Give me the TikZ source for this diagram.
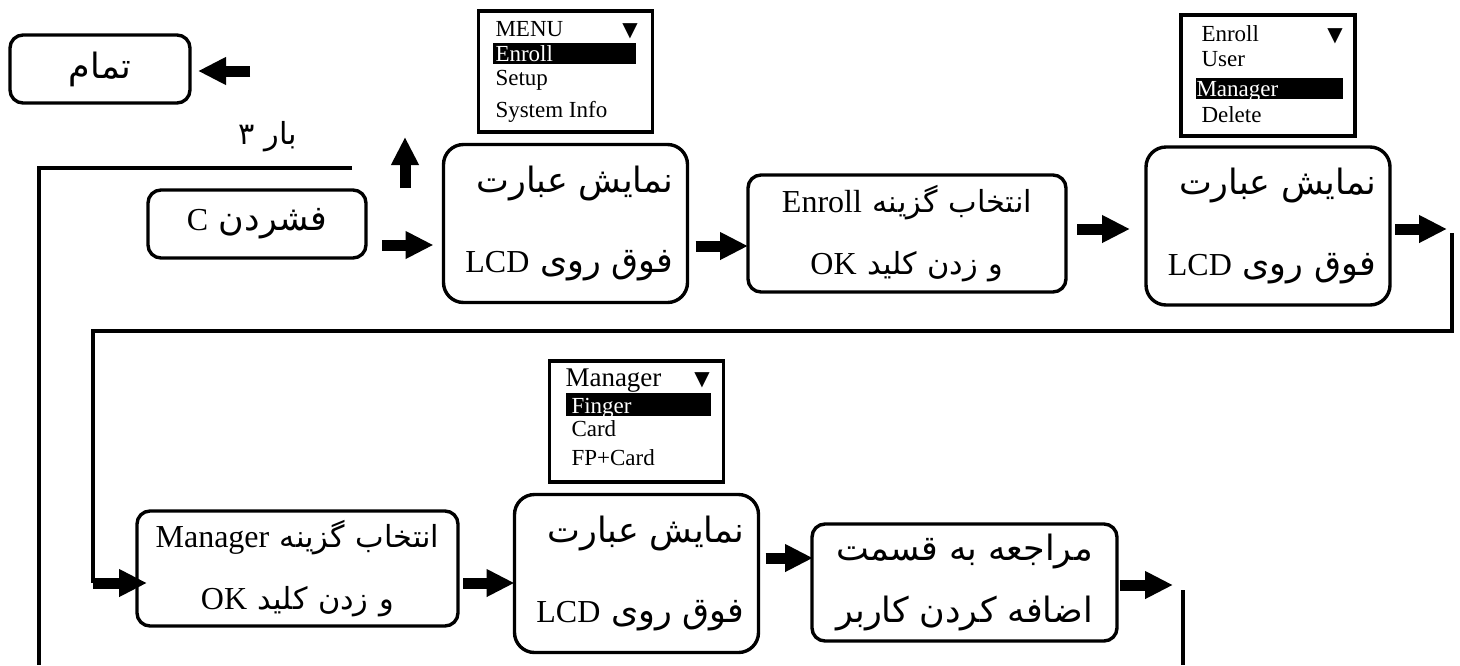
\documentclass[tikz,border=0pt]{standalone}
\usepackage{fontspec}
\setmainfont{Liberation Serif}
\newfontfamily\fafont[Script=Arabic,Scale=1.09]{DejaVu Sans}
\newfontfamily\fasfont[Script=Arabic,Scale=0.95]{DejaVu Sans}
\newfontfamily\symfont{DejaVu Sans}
\TeXXeTstate=1
\usetikzlibrary{arrows.meta,calc,positioning}

\newcommand{\fa}[1]{{\fafont\beginR #1\endR}}
\newcommand{\fas}[1]{{\fasfont\beginR #1\endR}}
\newcommand{\en}[1]{{\rmfamily\beginL #1\endL}}

\tikzstyle{st} = [draw, line width=1.7pt, rounded corners=6.5pt, outer sep=0pt,
  inner xsep=7pt, inner ysep=0pt, align=center, font=\fontsize{16}{31}\selectfont]
\tikzstyle{lcd} = [st, rounded corners=10pt, align=right, text width=108pt,
  minimum height=79pt, font=\fontsize{16}{40}\selectfont]
\tikzstyle{scr} = [draw, line width=1.9pt, inner sep=0pt, minimum width=87pt, minimum height=60.5pt]
\tikzstyle{mt} = [inner sep=0pt, anchor=base west, font=\fontsize{11.5}{12}\selectfont]
\tikzstyle{hl} = [mt, anchor=north west, fill=black, text=white, align=left,
  inner ysep=0pt, text height=9pt, text depth=1.5pt]
\tikzstyle{tri} = [inner sep=0pt, anchor=base east, font=\symfont\fontsize{10}{10}\selectfont]
\tikzstyle{ln} = [line width=1.6pt]
\tikzstyle{arw} = [line width=5.5pt, -{Triangle[length=14pt,width=13pt]}]

\begin{document}
\begin{tikzpicture}[x=0.5pt, y=-0.5pt]
  \useasboundingbox (0,0) rectangle (1460,665);

  % first row
  \node[st, text width=76pt, minimum height=34pt] (tamam) at (100,69) {\fa{تمام}};
  \node[st, text width=95pt, minimum height=34pt] (press) at (257,224) {\fa{فشردن \en{C}}};
  \node[lcd] (lcdA) at (565.5,223.5) {\fa{نمایش عبارت}\\\fa{فوق روی \en{LCD}}};
  \node[st, text width=145pt, minimum height=58.5pt] (selEnroll) at (907,233.5)
    {\fas{انتخاب گزینه \en{Enroll}}\\\fas{و زدن کلید \en{OK}}};
  \node[lcd] (lcdB) at (1268,226) {\fa{نمایش عبارت}\\\fa{فوق روی \en{LCD}}};
  \node[font=\fontsize{16}{16}\selectfont] (times) at (268,137) {\fas{بار ۳}};

  % second row
  \node[st, text width=146.5pt, minimum height=57.5pt] (selMgr) at (297.5,568.5)
    {\fas{انتخاب گزینه \en{Manager}}\\\fas{و زدن کلید \en{OK}}};
  \node[lcd] (lcdC) at (636.5,573.5) {\fa{نمایش عبارت}\\\fa{فوق روی \en{LCD}}};
  \node[st, text width=138.5pt, minimum height=58.5pt] (goAdd) at (964.5,582.5)
    {\fa{مراجعه به قسمت}\\\fa{اضافه کردن کاربر}};

  % screens
  \node[scr, above=5.5pt of lcdA] (scrA) {};
  \node[mt] (mA0) at ($(scrA.north west)+(18.5,28)$) {MENU};
  \node[tri] (tA) at ($(scrA.north west)+(161.5,28)$) {▼};
  \node[hl, inner xsep=1.5pt, text width=68.5pt] (mA1) at ($(scrA.north west)+(15.5,34)$) {Enroll};
  \node[mt] (mA2) at ($(scrA.north west)+(18.5,77)$) {Setup};
  \node[mt] (mA3) at ($(scrA.north west)+(18.5,109)$) {System Info};

  \node[scr, above=4.5pt of lcdB] (scrB) {};
  \node[mt] (mB0) at ($(scrB.north west)+(22,28.5)$) {Enroll};
  \node[tri] (tB) at ($(scrB.north west)+(164,28.5)$) {▼};
  \node[mt] (mB1) at ($(scrB.north west)+(22,53.5)$) {User};
  \node[hl, inner xsep=0.5pt, text width=72.5pt] (mB2) at ($(scrB.north west)+(16,64.5)$) {Manager};
  \node[mt] (mB3) at ($(scrB.north west)+(22,109.5)$) {Delete};

  \node[scr, above=5.5pt of lcdC] (scrC) {};
  \node[mt, font=\fontsize{13.5}{14}\selectfont] (mC0) at ($(scrC.north west)+(17.5,28)$) {Manager};
  \node[tri] (tC) at ($(scrC.north west)+(162.5,27)$) {▼};
  \node[hl, inner xsep=3pt, text width=66.5pt, text height=10pt] (mC1) at ($(scrC.north west)+(17.5,34)$) {Finger};
  \node[mt] (mC2) at ($(scrC.north west)+(23.5,78)$) {Card};
  \node[mt] (mC3) at ($(scrC.north west)+(23.5,107)$) {FP+Card};

  % free ends
  \coordinate (bk0) at (250,71);
  \coordinate (up0) at (405,188);
  \coordinate (up1) at (405,137);
  \coordinate (lp0) at (352,168);
  \coordinate (lp1) at (39,665);
  \coordinate (rt0) at (1447,229);
  \coordinate (rt1) at (1452,233);
  \coordinate (rt2) at (93,331);
  \coordinate (rt3) at (93,583);
  \coordinate (en0) at (1173,585);
  \coordinate (en1) at (1183,590);
  \coordinate (en2) at (1183,665);

  % connectors
  \draw[arw] (bk0) -- ($(tamam.east)+(8,2)$);
  \draw[arw] (up0) -- (up1);
  \draw[ln] (lp0) -| (lp1);
  \draw[arw] ($(press.east)+(16,21)$) -- ($(lcdA.west)+(-10,21.5)$);
  \draw[arw] ($(lcdA.east)+(8,22.5)$) -- ($(selEnroll.west)+(0,12.5)$);
  \draw[arw] ($(selEnroll.east)+(11,-4.5)$) -- ($(lcdB.west)+(-16,3)$);
  \draw[arw] ($(lcdB.east)+(5,3)$) -- (rt0);
  \draw[ln] (rt1) |- (rt2) -- (rt3);
  \draw[arw] (rt3) -- ($(selMgr.west)+(10,14.5)$);
  \draw[arw] ($(selMgr.east)+(5,14.5)$) -- ($(lcdC.west)+(0,9.5)$);
  \draw[arw] ($(lcdC.east)+(7,-15.5)$) -- ($(goAdd.west)+(1,-24.5)$);
  \draw[arw] ($(goAdd.east)+(3,2.5)$) -- (en0);
  \draw[ln] (en1) -- (en2);
\end{tikzpicture}
\end{document}
